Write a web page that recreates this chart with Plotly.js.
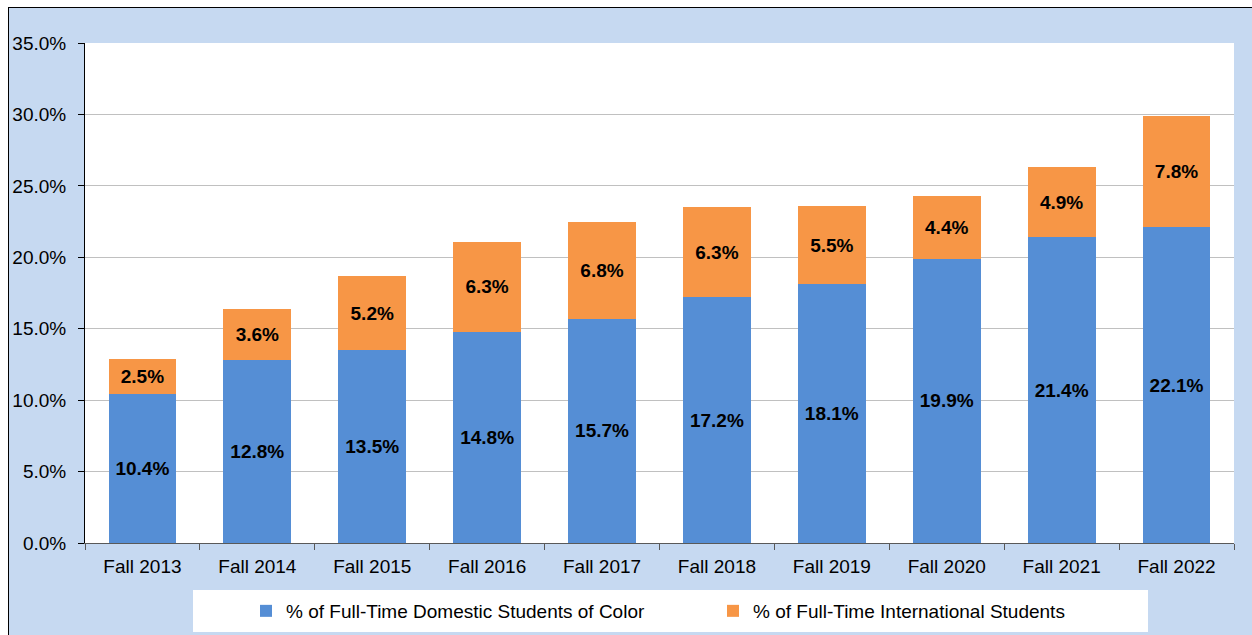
<!DOCTYPE html>
<html>
<head>
<meta charset="utf-8">
<script src="https://cdn.plot.ly/plotly-3.0.1.min.js"></script>
<style>
  html, body { margin: 0; padding: 0; background: #ffffff; width: 1252px; height: 635px; overflow: hidden; }
  #chart { position: absolute; left: 8px; top: 7px; width: 1243px; height: 627px;
           border-top: 1px solid #000; border-left: 1px solid #000; }
</style>
</head>
<body>
<div id="chart"></div>
<script>
const categories = ["Fall 2013","Fall 2014","Fall 2015","Fall 2016","Fall 2017","Fall 2018","Fall 2019","Fall 2020","Fall 2021","Fall 2022"];
const domesticColor = [10.4, 12.8, 13.5, 14.8, 15.7, 17.2, 18.1, 19.9, 21.4, 22.1];
const international = [2.5, 3.6, 5.2, 6.3, 6.8, 6.3, 5.5, 4.4, 4.9, 7.8];
const seriesNames = ["% of Full-Time Domestic Students of Color", "% of Full-Time International Students"];
const yTickVals = [0, 5, 10, 15, 20, 25, 30, 35];
const yTickText = yTickVals.map(v => v.toFixed(1) + "%");

const FONT = "Arial, 'Liberation Sans', sans-serif";
const labelFont = {family: FONT, size: 19, color: "#000", weight: "bold"};

const traces = [
  {
    type: "bar", name: seriesNames[0], x: categories, y: domesticColor,
    marker: {color: "#558ed5"},
    texttemplate: "%{y:.1f}%", textposition: "inside", insidetextanchor: "middle",
    textangle: 0, constraintext: "none", insidetextfont: labelFont, hoverinfo: "skip"
  },
  {
    type: "bar", name: seriesNames[1], x: categories, y: international,
    marker: {color: "#f79646"},
    texttemplate: "%{y:.1f}%", textposition: "inside", insidetextanchor: "middle",
    textangle: 0, constraintext: "none", insidetextfont: labelFont, hoverinfo: "skip"
  }
];

const pw = 1149, ph = 500;
const layout = {
  width: 1243, height: 627,
  margin: {l: 76, r: 18, t: 35, b: 92, pad: 0, autoexpand: false},
  paper_bgcolor: "#c6d9f1",
  plot_bgcolor: "#ffffff",
  barmode: "stack",
  bargap: 0.41,
  font: {family: FONT, size: 19, color: "#000"},
  showlegend: true,
  legend: {
    orientation: "h", traceorder: "normal",
    x: (246 - 85) / pw, xanchor: "left",
    y: (543 - 611) / ph, yanchor: "middle",
    bgcolor: "rgba(0,0,0,0)",
    entrywidth: 422, entrywidthmode: "pixels",
    font: {family: FONT, size: 19, color: "#000"}
  },
  xaxis: {
    type: "category",
    showline: true, linecolor: "#595959", linewidth: 1,
    ticks: "outside", tickson: "boundaries", ticklen: 6, tickcolor: "#595959",
    ticklabelstandoff: 6,
    showgrid: false,
    tickfont: {family: FONT, size: 19, color: "#000"}
  },
  yaxis: {
    range: [0, 35], tickmode: "array", tickvals: yTickVals, ticktext: yTickText,
    showline: true, linecolor: "#000", linewidth: 1,
    ticks: "outside", ticklen: 6, tickcolor: "#000",
    ticklabelstandoff: 8,
    showgrid: true, gridcolor: "#c0c0c0", gridwidth: 1,
    zeroline: false,
    tickfont: {family: FONT, size: 19, color: "#000"}
  },
  shapes: [
    {
      type: "rect", xref: "paper", yref: "paper", layer: "below",
      x0: (193 - 85) / pw, x1: (1148 - 85) / pw,
      y0: (543 - 632) / ph, y1: (543 - 590) / ph,
      fillcolor: "#ffffff", line: {width: 0}
    }
  ]
};

Plotly.newPlot("chart", traces, layout, {displayModeBar: false, staticPlot: true});
</script>
</body>
</html>
